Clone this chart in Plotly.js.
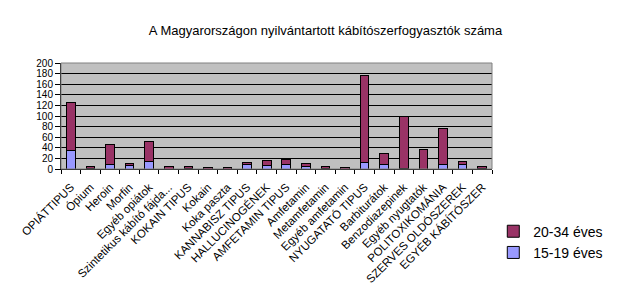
<!DOCTYPE html>
<html><head><meta charset="utf-8">
<script src="https://cdn.plot.ly/plotly-3.0.1.min.js"></script>
<style>body{margin:0;background:#fff}#c{width:620px;height:308px}</style>
</head><body><div id="c"></div>
<script>
var categories = ["OPIÁTTIPUS","Ópium","Heroin","Morfin","Egyéb opiátok","Szintetikus kábító fájda...","KOKAIN TIPUS","Kokain","Koka paszta","KANNABISZ TIPUS","HALLUCINOGÉNEK","AMFETAMIN TIPUS","Amfetamin","Metamfetamin","Egyéb amfetamin","NYUGATATÓ TIPUS","Barbiturátok","Benzodiazepinek","Egyéb nyugtatók","POLITOXIKOMÁNIA","SZERVES OLDÓSZEREK","EGYÉB KÁBÍTÓSZER"];
var age15_19 = [35,1,9,6,15,0,1,0,0,8,6,8,4,1,0,13,9,1,0,9,9,1];
var age20_34 = [90,4,38,4,36,5,3,2,2,5,10,10,6,3,2,163,21,99,36,68,6,3];
var yTicks = [0,20,40,60,80,100,120,140,160,180,200];

var data = [
  {type:'bar', name:'15-19 éves', x:categories, y:age15_19,
   marker:{color:'#9999FF', line:{color:'#000', width:1}}},
  {type:'bar', name:'20-34 éves', x:categories, y:age20_34,
   marker:{color:'#993366', line:{color:'#000', width:1}}}
];
var layout = {
  width:620, height:308,
  margin:{l:61, r:85, t:63, b:139},
  paper_bgcolor:'#fff', plot_bgcolor:'#C0C0C0',
  barmode:'stack', bargap:0.56,
  font:{family:'Liberation Sans, Arial, sans-serif', color:'#000'},
  title:{text:'A Magyarországon nyilvántartott kábítószerfogyasztók száma',
         font:{size:13, color:'#000'}, x:0.525, xanchor:'center', y:0.9, yanchor:'middle'},
  showlegend:true,
  legend:{traceorder:'reversed', x:1.003, xanchor:'left', y:-0.44, yanchor:'top',
          font:{size:14}, bgcolor:'rgba(0,0,0,0)', tracegroupgap:0, itemwidth:30},
  xaxis:{type:'category', tickangle:-45, tickfont:{size:11.5}, ticklabelstandoff:6,
         showline:true, linecolor:'#000', linewidth:1, mirror:false,
         ticks:'outside', tickson:'boundaries', ticklen:4, tickcolor:'#000',
         showgrid:false, automargin:false},
  yaxis:{range:[0,200], tickvals:yTicks, ticktext:yTicks.map(String), tickfont:{size:10},
         showline:true, linecolor:'#000', linewidth:1, ticks:'outside', ticklen:5, tickcolor:'#000',
         showgrid:true, gridcolor:'#000', gridwidth:1, zeroline:false, automargin:false},
  shapes:[{type:'rect', xref:'paper', yref:'paper', x0:0, x1:1, y0:0, y1:1,
           line:{color:'#808080', width:1}}]
};
Plotly.newPlot('c', data, layout, {displayModeBar:false, staticPlot:true});
</script></body></html>
